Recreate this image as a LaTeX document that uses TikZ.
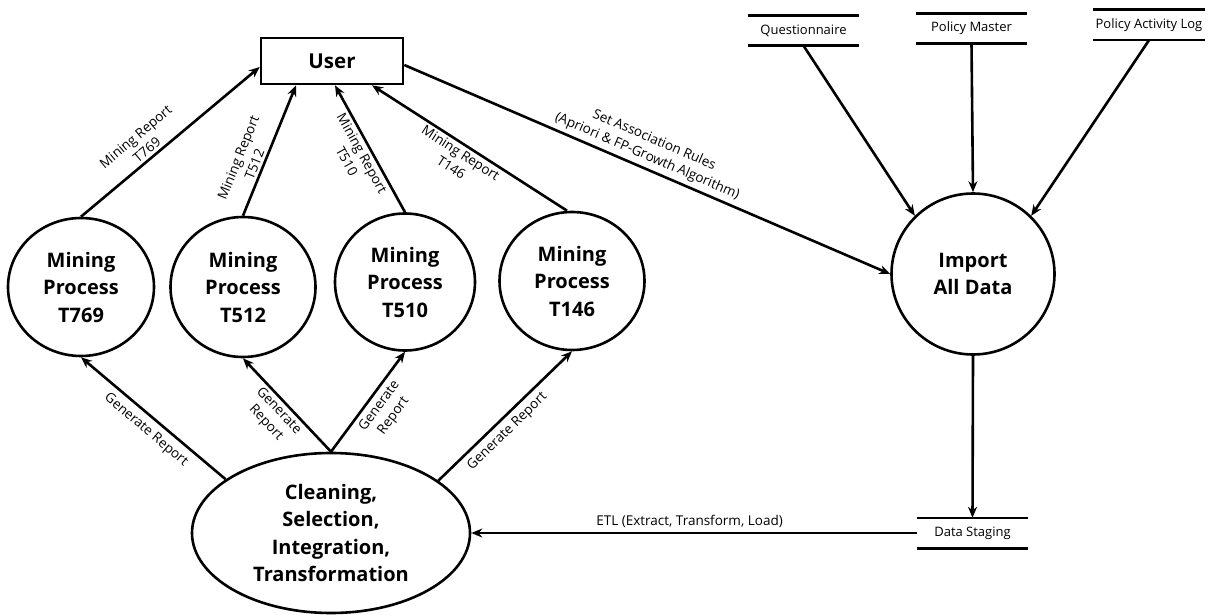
\documentclass[tikz,border=0pt]{standalone}
\usepackage{fontspec}
\setmainfont{Open Sans}
\usetikzlibrary{shapes.geometric,arrows.meta}
\tikzset{
  proc/.style={ellipse, draw, line width=2.6pt, inner sep=0pt, align=center,
    font=\bfseries\fontsize{20}{27.5}\selectfont},
  userbox/.style={rectangle, draw, line width=2.6pt, minimum width=142pt, minimum height=46pt,
    inner sep=0pt, font=\bfseries\fontsize{20.5}{27}\selectfont},
  store/.style={minimum width=111pt, minimum height=30pt, inner sep=0pt,
    font=\fontsize{13}{16}\selectfont},
  storeline/.style={line width=2.6pt},
  flow/.style={line width=2.6pt, -{Stealth[length=11pt,width=9pt]}},
  lbl/.style={font=\fontsize{13.5}{17.5}\selectfont, align=center, inner sep=2.5pt, sloped}
}
\begin{document}
\begin{tikzpicture}[x=1pt,y=-1pt]
\useasboundingbox (0,0) rectangle (1215,615);
% nodes
\node[userbox] (user) at (332,61) {User};
\node[proc, minimum width=146pt, minimum height=138pt] (t769) at (81,287) {Mining\\Process\\T769};
\node[proc, minimum width=145pt, minimum height=140pt] (t512) at (243,287) {Mining\\Process\\T512};
\node[proc, minimum width=140pt, minimum height=137pt] (t510) at (405,282) {Mining\\Process\\T510};
\node[proc, minimum width=145pt, minimum height=138pt] (t146) at (572,281) {Mining\\Process\\T146};
\node[proc, minimum width=163pt, minimum height=161pt] (import) at (973,274) {Import\\All Data};
\node[proc, minimum width=278pt, minimum height=160pt] (clean) at (331,533) {Cleaning,\\Selection,\\Integration,\\Transformation};
% stores
\node[store] (qn) at (803.5,30.5) {Questionnaire};
\node[store] (pm) at (971.5,28.5) {Policy Master};
\node[store] (pal) at (1149,25) {Policy Activity Log};
\node[store] (ds) at (972.5,533) {Data Staging};
\foreach \s in {qn,pm,pal,ds}{
  \draw[storeline] (\s.north west) -- (\s.north east);
  \draw[storeline] (\s.south west) -- (\s.south east);
}
% flows to user
\draw[flow] (t769.north) -- node[lbl, above, pos=0.4] {Mining Report\\T769} ([yshift=-6pt]user.west);
\draw[flow] (t512.north) -- node[lbl, above, pos=0.37] {Mining Report\\T512} ([xshift=-36pt]user.south);
\draw[flow] (t510.north) -- node[lbl, below, pos=0.5] {Mining Report\\T510} ([xshift=3pt]user.south);
\draw[flow] ([xshift=-5pt]t146.north) -- node[lbl, below, pos=0.52] {Mining Report\\T146} ([xshift=40pt]user.south);
% user to import
\draw[flow] ([yshift=-4pt]user.east) -- node[lbl, above, pos=0.49, inner sep=4pt] {Set Association Rules\\(Apriori \& FP-Growth Algorithm)} (import.west);
% stores to import
\draw[flow] (qn.south) -- (import.135);
\draw[flow] (pm.south) -- (import.north);
\draw[flow] (pal.south) -- (import.45);
\draw[flow] (import.south) -- (ds.north);
% ETL
\draw[flow] (ds.west) -- node[lbl, above, pos=0.51, inner sep=4pt] {ETL (Extract, Transform, Load)} (clean.east);
% generate report
\draw[flow] (clean.153) -- node[lbl, below, pos=0.49, inner sep=6pt] {Generate Report} (t769.south);
\draw[flow] (clean.north) -- node[lbl, below, pos=0.51] {Generate\\Report} (t512.south);
\draw[flow] (clean.north) -- node[lbl, below, pos=0.53, inner sep=4pt] {Generate\\Report} (t510.south);
\draw[flow] (clean.26) -- node[lbl, below, pos=0.45, inner sep=5pt] {Generate Report} (t146.south);
\end{tikzpicture}
\end{document}
